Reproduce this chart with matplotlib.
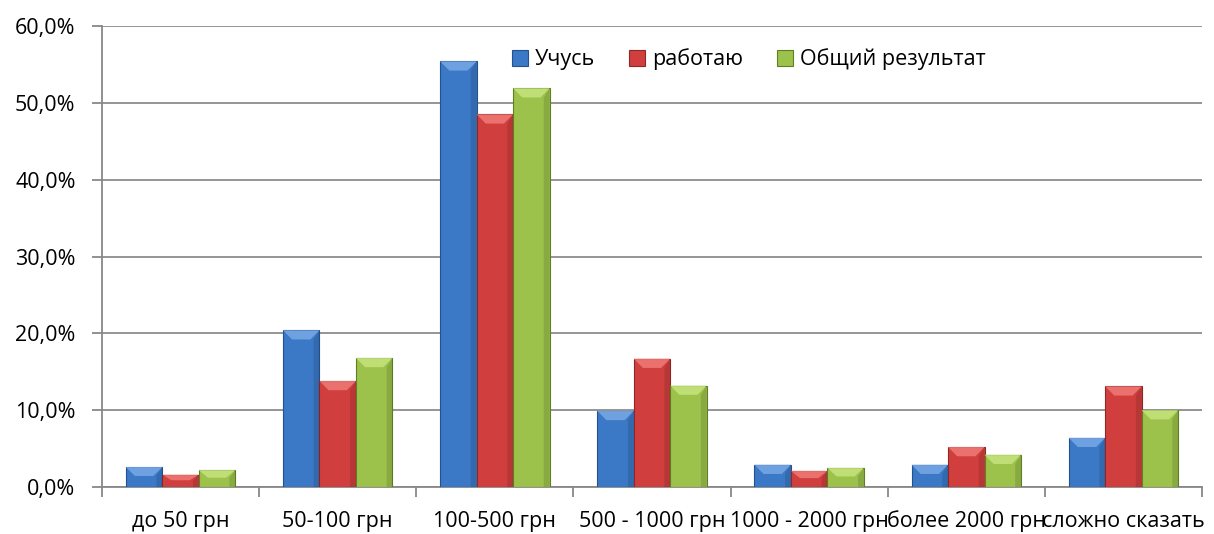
import matplotlib
matplotlib.use("Agg")
import matplotlib.pyplot as plt
from matplotlib.patches import Polygon
import matplotlib.ticker as mticker
import numpy as np

categories = ["до 50 грн", "50-100 грн", "100-500 грн", "500 - 1000 грн",
              "1000 - 2000 грн", "более 2000 грн", "сложно сказать"]
series_names = ["Учусь", "работаю", "Общий результат"]
uchus = [2.6, 20.4, 55.4, 9.9, 2.9, 2.9, 6.4]
rabotayu = [1.6, 13.8, 48.5, 16.7, 2.1, 5.2, 13.1]
obshchiy = [2.2, 16.8, 51.9, 13.2, 2.5, 4.2, 10.0]
y_ticks = [0, 10, 20, 30, 40, 50, 60]

colors = ["#3B78C6", "#D03F3E", "#9DC24B"]
edges = ["#23528F", "#8E2726", "#5F7F26"]
tops = ["#79A9E6", "#F07A78", "#C6E47E"]

plt.rcParams['font.family'] = ['Open Sans', 'DejaVu Sans']

fig = plt.figure(figsize=(12.14, 5.34), dpi=100)
ax = fig.add_axes([102/1214, 47/534, 1100/1214, 461/534])

x = np.arange(len(categories))
w = 0.232
data = [uchus, rabotayu, obshchiy]
for i, (vals, name) in enumerate(zip(data, series_names)):
    bars = ax.bar(x + (i - 1) * w, vals, width=w, color=colors[i],
                  edgecolor=edges[i], linewidth=0.8, label=name, zorder=3)
    for b in bars:
        bx, bw, bh = b.get_x(), b.get_width(), b.get_height()
        bev_h = min(1.2, bh * 0.45)
        inset = bw * 0.25
        poly = Polygon([[bx, bh], [bx + bw, bh], [bx + bw - inset, bh - bev_h],
                        [bx + inset, bh - bev_h]], closed=True,
                       facecolor=tops[i], edgecolor='none', zorder=4, alpha=0.85)
        ax.add_patch(poly)
        shade = Polygon([[bx + bw * 0.84, 0], [bx + bw, 0], [bx + bw, bh],
                         [bx + bw * 0.84, bh - bev_h]], closed=True,
                        facecolor='black', edgecolor='none', alpha=0.12, zorder=4)
        ax.add_patch(shade)

ax.set_xlim(-0.5, len(categories) - 0.5)
ax.set_ylim(0, 60)
ax.set_yticks(y_ticks)
ax.yaxis.set_major_formatter(mticker.FuncFormatter(lambda v, p: f"{v:.1f}%".replace('.', ',')))
ax.set_xticks(x)
ax.set_xticklabels(categories)
ax.set_xticks(np.arange(-0.5, len(categories)), minor=True)
ax.tick_params(axis='x', which='major', length=0, pad=17, labelsize=15.5, colors='black')
ax.tick_params(axis='x', which='minor', length=7, width=1.3, color='#888888', direction='out')
ax.tick_params(axis='y', length=7, width=1.3, color='#888888', pad=12, labelsize=15.5, labelcolor='black')

ax.grid(axis='y', color='#8C8C8C', linewidth=1.3, zorder=0)
ax.set_axisbelow(True)
for s in ['top', 'right']:
    ax.spines[s].set_visible(False)
for s in ['left', 'bottom']:
    ax.spines[s].set_color('#888888')
    ax.spines[s].set_linewidth(1.3)

leg = ax.legend(loc='center', bbox_to_anchor=(0.588, 0.928), ncol=3, frameon=False,
                fontsize=15.5, handlelength=0.75, handleheight=0.75, handletextpad=0.3,
                columnspacing=1.6)

fig.savefig("out.png", dpi=100)
